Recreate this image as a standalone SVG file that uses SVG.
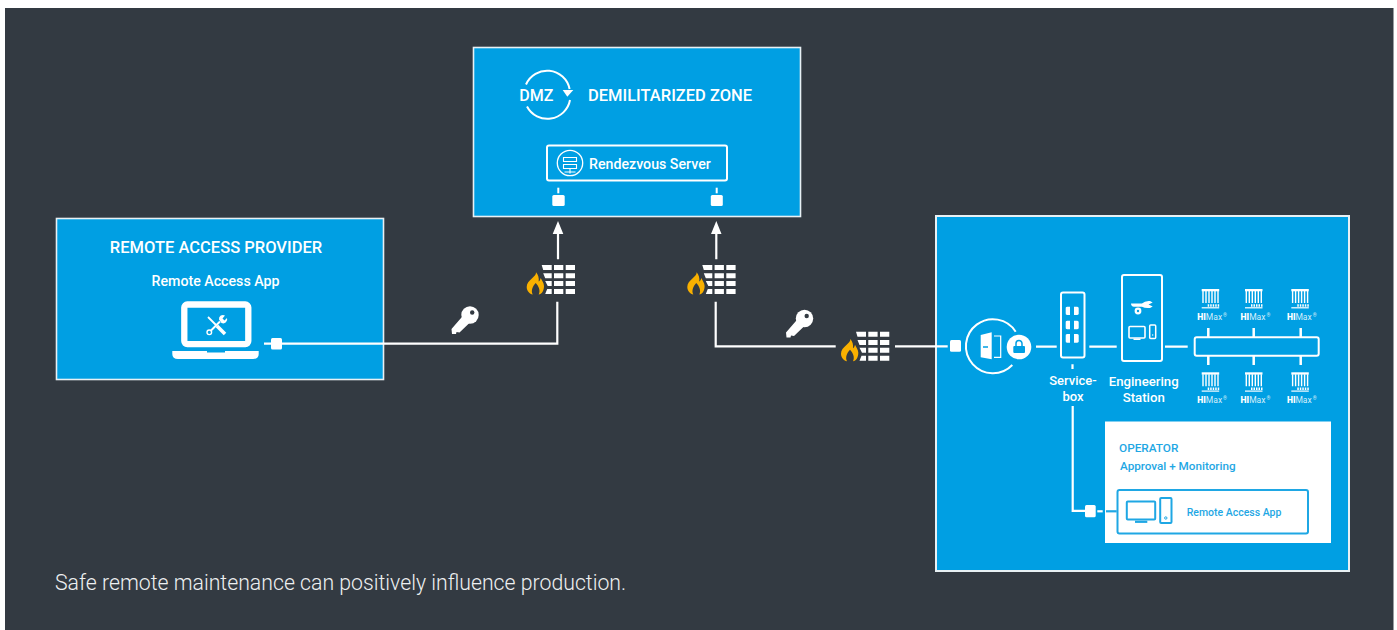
<svg xmlns="http://www.w3.org/2000/svg" width="1397" height="630" viewBox="0 0 1397 630">
<style>
text{font-family:Roboto,"Liberation Sans",sans-serif;fill:#fff}
.b{font-weight:500}
.box{fill:#009fe3;stroke:#e8f0f4;stroke-width:1.6}
.l{fill:none;stroke:#fff;stroke-width:2.2}
.o{fill:none;stroke:#fff;stroke-width:2}
.w{fill:#fff}
.c{fill:#1fa7e4}
.co{fill:none;stroke:#1fa7e4;stroke-width:2}
.hm{font-size:8.5px;fill:#d5eefa}
.hb{font-weight:900;fill:#fff}
</style>
<defs>
<g id="wall">
<path class="w" d="M0 0h10v5H1.500zM12.300 0h9.300v5h-9.300zM24 0h9.300v5H24zM1.500 8.300H10v5H3.500zM12.300 8.300h9.300v5h-9.300zM24 8.300h9.300v5H24zM3.500 16H10v5H6zM12.300 16h9.300v5h-9.300zM24 16h9.300v5H24zM5.500 24H10v5H3.500zM12.300 24h9.300v5h-9.300zM24 24h9.300v5H24z"/>
<path fill="#f9b000" d="M-5.700 7.300C-5 12-15 15-15 22C-15 26-12 29-9 29.500C-11 26-9 21-6 18C-3 21-1 26-3 29.500C0 29 2.300 26 2.300 21C2.300 18 0 15-1 13C-1.500 15-2 16-3 16.500C-2.500 13-3.500 10-5.700 7.300z"/>
</g>
<g id="key">
<circle cx="18.500" cy="9" r="8.700" class="w"/>
<path class="w" d="M13 8L20 15L8 26.500L5 26L4.500 28H0.500L0 23z"/>
<circle cx="20.700" cy="6.500" r="2.200" fill="#333a42"/>
</g>
<g id="himax">
<rect x="0" y="0" width="17.500" height="2.300" class="w"/>
<path d="M1.300 2v12M4.300 2v12M7.300 2v12M10.300 2v12M13.300 2v12M16.300 2v12" stroke="#fff" stroke-width="1.400" fill="none"/>
<path d="M0 18.800h17.500" stroke="#fff" stroke-width="1.200"/>
<path d="M6 16.500h11.500" stroke="#fff" stroke-width="2.500" stroke-dasharray="1.500 1"/>
<text x="-4.400" y="30.500" class="hm"><tspan class="hb">HI</tspan>Max<tspan font-size="5" dx="1" dy="-3">®</tspan></text>
</g>
</defs>
<rect width="1397" height="630" fill="#fff"/>
<rect x="5" y="8" width="1388.500" height="622" fill="#333a42"/>

<g id="dmz">
<rect class="box" x="473.500" y="47.500" width="327" height="169"/>
<text x="536.300" y="101" class="b" font-size="16" text-anchor="middle">DMZ</text>
<path d="M526 84.500A23 23 0 0 1 569.600 89" class="o"/>
<path d="M570 100A23 23 0 0 1 527 106.500" class="o"/>
<path d="M562.700 90H573.300L567.300 96.700z" class="w"/>
<text x="588" y="101" class="b" font-size="16.500">DEMILITARIZED ZONE</text>
</g>

<g id="rendezvous">
<rect x="547" y="145.500" width="180" height="35" rx="2" class="o"/>
<circle cx="570" cy="163" r="12.700" fill="none" stroke="#fff" stroke-width="1.300"/>
<path d="M563.500 157.500h13v4h-13zM563.500 164.500h13v4h-13zM570 168.500v5M564.500 172h11" fill="none" stroke="#fff" stroke-width="1.100"/>
<text x="589" y="168.500" class="b" font-size="14.200">Rendezvous Server</text>
<rect x="557.300" y="187.700" width="2" height="5.600" class="w"/>
<rect x="552.300" y="195" width="12.400" height="11" rx="1.500" class="w"/>
<rect x="715.700" y="187.700" width="2" height="5.600" class="w"/>
<rect x="710.800" y="195" width="12" height="11" rx="1.500" class="w"/>
</g>

<g id="provider">
<rect class="box" x="56.500" y="218.500" width="327" height="161"/>
<text x="216" y="252.700" class="b" font-size="16.500" text-anchor="middle">REMOTE ACCESS PROVIDER</text>
<text x="215.500" y="286" class="b" font-size="14.200" text-anchor="middle">Remote Access App</text>
<rect x="184.300" y="304.500" width="64" height="39.600" rx="3" fill="none" stroke="#fff" stroke-width="6.300"/>
<path d="M172.300 351H207V352.500H225V351H258.700V354Q258.700 359 253 359H178Q172.300 359 172.300 354Z" class="w"/>
<path d="M211 330.500L220 321.500" stroke="#fff" stroke-width="2" fill="none"/>
<circle cx="209.300" cy="332.300" r="2.300" fill="none" stroke="#fff" stroke-width="1.400"/>
<path d="M219 319.500A4 4 0 0 1 225 315.500L222.500 318.500L224.500 320.500L227 318A4 4 0 0 1 221.500 323z" class="w"/>
<path d="M208 317L217 326" stroke="#fff" stroke-width="1.800" fill="none"/>
<path d="M217 326L225 334" stroke="#fff" stroke-width="3.600" fill="none"/>
<rect x="271" y="338" width="11" height="11.500" rx="1.500" class="w"/>
</g>

<g id="firewall-left"><use href="#wall" x="541.700" y="265"/></g>
<g id="firewall-middle"><use href="#wall" x="702.300" y="265"/></g>
<g id="firewall-right"><use href="#wall" x="856" y="331.700"/></g>
<g id="key-left"><use href="#key" x="451.500" y="306"/></g>
<g id="key-right"><use href="#key" x="786" y="309.500"/></g>

<g id="plant">
<rect class="box" x="936" y="216" width="413" height="355" style="stroke-width:2"/>
<rect x="950" y="340" width="11" height="11.700" rx="1.500" class="w"/>
<path d="M1015.700 331.700A27 27 0 1 0 1012.300 365" class="o"/>
<path d="M980.700 335L991.700 332.300V359.300L980.700 357.300z" class="w"/>
<path d="M994 336h6.700v21.300H994" fill="none" stroke="#fff" stroke-width="1.200"/>
<path d="M983 347h5" stroke="#009fe3" stroke-width="1.500"/>
<circle cx="1019" cy="347" r="12.300" class="w"/>
<rect x="1013.300" y="346" width="11.700" height="7" rx="1" fill="#009fe3"/>
<path d="M1016 346v-2.500a3 3 0 0 1 6 0v2.500" fill="none" stroke="#009fe3" stroke-width="1.500"/>
</g>

<g id="servicebox">
<rect x="1061" y="292.500" width="23.500" height="65" rx="2" class="o"/>
<path d="M1065.700 308.500a1.500 1.500 0 0 1 1.500-1.800h2.800v8.300h-2.800a1.500 1.500 0 0 1-1.500-1.800zM1074 306.700h3a1.500 1.500 0 0 1 1.700 1.800v4.700a1.500 1.500 0 0 1-1.700 1.800h-3zM1065.700 322.500a1.500 1.500 0 0 1 1.500-1.800h2.800v8.600h-2.800a1.500 1.500 0 0 1-1.500-1.800zM1074 320.700h3a1.500 1.500 0 0 1 1.700 1.800v5a1.500 1.500 0 0 1-1.700 1.800h-3zM1065.700 335.800a1.500 1.500 0 0 1 1.500-1.800h2.800v8.700h-2.800a1.500 1.500 0 0 1-1.500-1.800zM1074 334h3a1.500 1.500 0 0 1 1.700 1.800v5.100a1.500 1.500 0 0 1-1.700 1.800h-3z" class="w"/>
<text x="1073" y="384.500" class="b" font-size="13" text-anchor="middle">Service-</text>
<text x="1073" y="400.500" class="b" font-size="13" text-anchor="middle">box</text>
</g>

<g id="station">
<rect x="1122" y="275" width="40" height="86" rx="2" class="o"/>
<path d="M1131 303.500H1142Q1145 300.500 1150 301L1152.700 302.500L1148.500 304.500L1152.700 306.500L1150 308Q1145 308.500 1142 306.800H1134Q1131 306.500 1131 303.500z" class="w"/>
<circle cx="1138" cy="311" r="3.400" class="w"/>
<circle cx="1138" cy="311" r="1.200" fill="#009fe3"/>
<rect x="1129" y="326.500" width="16" height="11.500" rx="1" fill="none" stroke="#fff" stroke-width="1.600"/>
<rect x="1133.500" y="338.500" width="7" height="1.500" class="w"/>
<rect x="1149.700" y="325" width="6" height="13.500" rx="1" fill="none" stroke="#fff" stroke-width="1.500"/>
<circle cx="1152.700" cy="335" r=".7" class="w"/>
<text x="1143.700" y="385.700" class="b" font-size="13.200" text-anchor="middle">Engineering</text>
<text x="1143.700" y="401.700" class="b" font-size="13.200" text-anchor="middle">Station</text>
</g>

<g id="bus">
<rect x="1194.700" y="337.300" width="124" height="18.500" rx="2" class="o"/>
<path d="M1208.300 328v9M1253.700 328v9M1300.700 328v9M1208.300 356v9M1253.700 356v9M1300.700 356v9" stroke="#fff" stroke-width="2.500"/>
</g>
<g id="himax-1"><use href="#himax" x="1201.700" y="289"/></g>
<g id="himax-2"><use href="#himax" x="1245" y="289"/></g>
<g id="himax-3"><use href="#himax" x="1291.300" y="289"/></g>
<g id="himax-4"><use href="#himax" x="1201.700" y="372.300"/></g>
<g id="himax-5"><use href="#himax" x="1245" y="372.300"/></g>
<g id="himax-6"><use href="#himax" x="1291.300" y="372.300"/></g>

<g id="operator">
<rect x="1105" y="421.500" width="226" height="121.500" class="w"/>
<text x="1119" y="452" class="b c" font-size="11.800" style="fill:#1fa7e4">OPERATOR</text>
<text x="1120" y="470" class="b c" font-size="11.700" style="fill:#1fa7e4">Approval + Monitoring</text>
<rect x="1117.500" y="490" width="190.500" height="43.500" rx="2" class="co"/>
<rect x="1126.800" y="501.500" width="28.400" height="18" rx="1" class="co"/>
<rect x="1135" y="520.700" width="12.300" height="2.200" class="c"/>
<rect x="1160.200" y="498" width="11.300" height="25" rx="1" class="co"/>
<circle cx="1165.800" cy="518" r="1.200" fill="none" stroke="#1fa7e4"/>
<text x="1186.700" y="516" class="b" font-size="10.500" style="fill:#1fa7e4">Remote Access App</text>
</g>

<g id="connectors">
<path class="l" d="M264 343.700H271.500M282 343.700H557.300V301.700"/>
<path class="l" d="M558 259.300V232M716.300 259.300V232"/>
<path d="M558 221L563.300 234H552.700zM716.300 221L721.500 234H711z" class="w"/>
<path class="l" d="M715.700 301.700V346.300H835.700M895 346.300H947.700"/>
<path class="l" d="M1036 346.700H1056.700M1089.300 346.700H1116.700M1165 346.700H1187.700"/>
<path class="l" d="M1072.500 364.300V369M1072.700 406V510.900H1085"/>
<rect x="1085" y="505" width="10.700" height="12.300" rx="1.500" class="w"/>
<path class="l" d="M1097.300 511.300H1102.700"/>
<path d="M1106 511.300H1116.700" fill="none" stroke="#1fa7e4" stroke-width="2.200"/>
</g>
<text id="caption" x="55" y="590" font-size="21.250" font-weight="300" style="fill:#eef0f1">Safe remote maintenance can positively influence production.</text>
</svg>
